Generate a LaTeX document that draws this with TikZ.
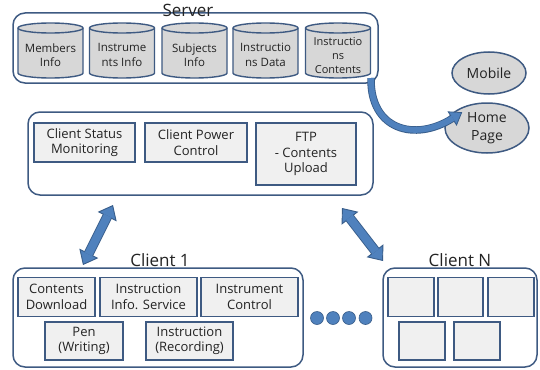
\documentclass[tikz,border=0pt]{standalone}
\usepackage{fontspec}
\setmainfont{Open Sans}
\usetikzlibrary{arrows.meta,shapes.geometric}

\definecolor{edge}{RGB}{62,90,130}
\definecolor{boxfill}{RGB}{240,240,240}
\definecolor{dbfill}{RGB}{215,215,215}
\definecolor{arrowblue}{RGB}{79,129,189}
\definecolor{arrowedge}{RGB}{56,93,138}
\definecolor{ink}{RGB}{35,35,35}

\tikzset{
  group/.style={draw=edge, line width=1.5pt, rounded corners=12pt, fill=white,
    inner sep=0pt, outer sep=0pt},
  func/.style={draw=edge, line width=1.4pt, fill=boxfill, inner sep=0pt, outer sep=0pt,
    align=center, text=ink, font=\fontsize{13}{15.5}\selectfont},
  dbshape/.style={draw=edge, line width=1.4pt, fill=dbfill},
  dbtext/.style={inner sep=0pt, align=center, text=ink, font=\fontsize{11.5}{14.5}\selectfont},
  web/.style={ellipse, draw=edge, line width=1.5pt, fill=dbfill, inner sep=0pt,
    align=center, text=ink, font=\fontsize{14}{18}\selectfont},
  title/.style={inner sep=0pt, text=ink, font=\fontsize{17}{20}\selectfont},
  dotmark/.style={circle, fill=arrowblue, draw=arrowedge, line width=0.6pt,
    minimum size=13pt, inner sep=0pt},
  duplex/.style={draw=arrowedge, line width=10pt,
    {Triangle[length=13pt,width=21pt,line width=0.9pt,fill=arrowblue]}-{Triangle[length=13pt,width=21pt,line width=0.9pt,fill=arrowblue]}},
  duplexfill/.style={draw=arrowblue, line width=8.2pt, shorten <=12pt, shorten >=12pt},
  bendout/.style={draw=arrowedge, line width=7.5pt,
    -{Triangle[length=12pt,width=17pt,line width=0.8pt,fill=arrowblue]}},
  bendfill/.style={draw=arrowblue, line width=5.8pt, shorten >=11pt},
}

\begin{document}
\begin{tikzpicture}[x=1pt,y=-1pt]
\useasboundingbox (0,0) rectangle (540,369);
\fill[white] (0,0) rectangle (540,369);

% ---- server with its databases ----
\node[group, minimum width=365pt, minimum height=70pt] (server) at (195.5,48) {};
\node[title] (servertitle) at (188,10.5) {Server};

\foreach \cx in {50.5,122,194.5,265.5,338}{
  \draw[dbshape] (\cx-32.5,28) -- (\cx-32.5,73)
    arc[start angle=180, end angle=360, x radius=32.5pt, y radius=5pt]
    -- (\cx+32.5,28)
    arc[start angle=0, end angle=180, x radius=32.5pt, y radius=5pt] -- cycle;
  \draw[dbshape, fill=none] (\cx-32.5,28)
    arc[start angle=180, end angle=360, x radius=32.5pt, y radius=5pt];
}
\node[dbtext] (db1) at (50.5,55) {Members\\Info};
\node[dbtext] (db2) at (122,55) {Instrume\\nts Info};
\node[dbtext] (db3) at (194.5,55) {Subjects\\Info};
\node[dbtext] (db4) at (265.5,55) {Instructio\\ns Data};
\node[dbtext, font=\fontsize{11}{14}\selectfont] (db5) at (338,56) {Instructio\\ns\\Contents};

% ---- outside access ----
\node[web, minimum width=74pt, minimum height=42pt] (mobile) at (489,73) {Mobile};
\node[web, minimum width=84pt, minimum height=50pt] (home) at (487,128) {Home\\Page};

\coordinate (srvout) at ([xshift=-7pt,yshift=5pt]server.south east);
\coordinate (homein) at ([xshift=9pt]home.155);
\draw[bendout] (srvout) .. controls (370,130) and (415,142) .. (homein);
\draw[bendfill] (srvout) .. controls (370,130) and (415,142) .. (homein);

% ---- management server ----
\node[group, minimum width=345pt, minimum height=83pt] (mgr) at (200.5,153.5) {};
\node[func, minimum width=101pt, minimum height=39pt] (status) at (84.5,142.5) {Client Status\\Monitoring};
\node[func, minimum width=102pt, minimum height=39pt] (power) at (196,142.5) {Client Power\\Control};
\node[func, minimum width=100pt, minimum height=62pt] (ftp) at (306,154) {FTP\\- Contents\\Upload};

% ---- client 1 ----
\node[group, minimum width=290pt, minimum height=99pt] (client1) at (158,317.5) {};
\node[title] (c1title) at (160,260.5) {Client 1};
\node[func, minimum width=77pt, minimum height=38.5pt] (download) at (56.5,297) {Contents\\Download};
\node[func, minimum width=97pt, minimum height=38.5pt] (infosvc) at (148.5,297) {Instruction\\Info. Service};
\node[func, minimum width=97pt, minimum height=38.5pt] (instctl) at (249.5,297) {Instrument\\Control};
\node[func, minimum width=78pt, minimum height=38pt] (pen) at (84,341) {Pen\\(Writing)};
\node[func, minimum width=87pt, minimum height=38pt] (record) at (189.5,341) {Instruction\\(Recording)};

% ---- ellipsis between clients ----
\node[dotmark] (dot1) at (317,318) {};
\node[dotmark] (dot2) at (333,318) {};
\node[dotmark] (dot3) at (349,318) {};
\node[dotmark] (dot4) at (365.5,318) {};

% ---- client N ----
\node[group, minimum width=154pt, minimum height=99pt] (clientN) at (460,317.5) {};
\node[title] (cntitle) at (460,260.5) {Client N};
\node[func, minimum width=46pt, minimum height=38.5pt] (n1) at (411,297) {};
\node[func, minimum width=45pt, minimum height=38.5pt] (n2) at (460.5,297) {};
\node[func, minimum width=46pt, minimum height=38.5pt] (n3) at (511,297) {};
\node[func, minimum width=46pt, minimum height=38pt] (n4) at (422,341) {};
\node[func, minimum width=46pt, minimum height=38pt] (n5) at (477,341) {};

% ---- links between management server and clients ----
\coordinate (l1top) at ([xshift=85pt,yshift=-10pt]mgr.south west);
\coordinate (l1bot) at ([xshift=70pt,yshift=3pt]client1.north west);
\coordinate (lntop) at ([xshift=-31pt,yshift=-13pt]mgr.south east);
\coordinate (lnbot) at ([xshift=0pt,yshift=7pt]clientN.north west);
\draw[duplex] (l1top) -- (l1bot);
\draw[duplexfill] (l1top) -- (l1bot);
\draw[duplex] (lntop) -- (lnbot);
\draw[duplexfill] (lntop) -- (lnbot);
\end{tikzpicture}
\end{document}
